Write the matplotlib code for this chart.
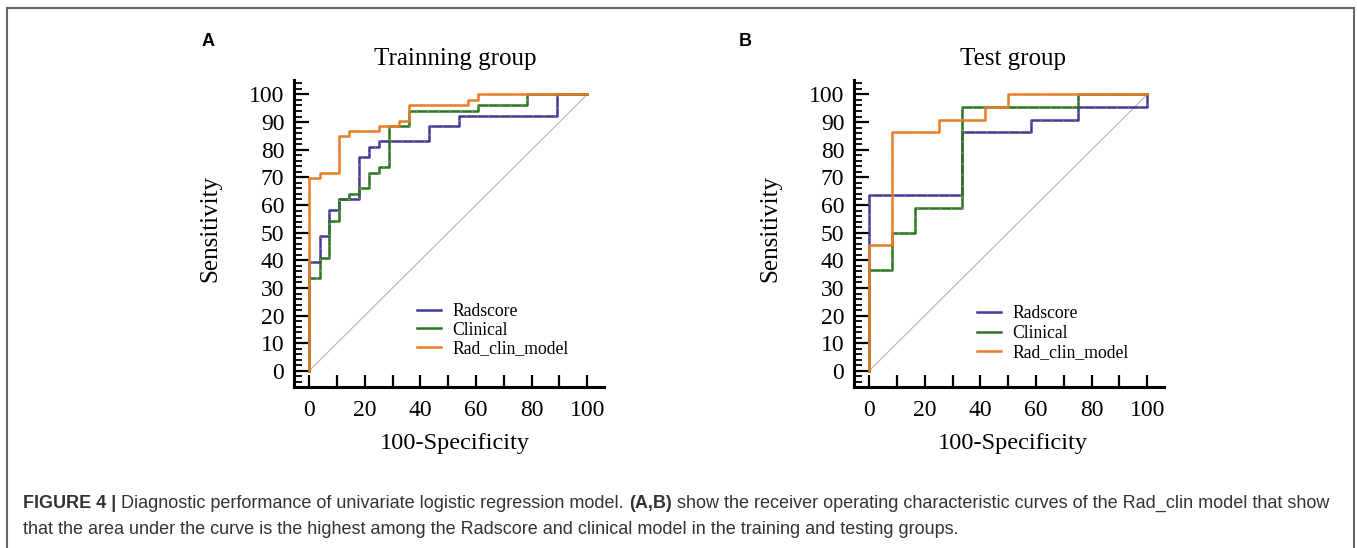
import matplotlib
matplotlib.use("Agg")
import matplotlib.pyplot as plt
from matplotlib.patches import Rectangle
from matplotlib.ticker import MultipleLocator

# ROC curves (100-specificity, sensitivity)
train_rad_x = [0, 0, 4.0, 7.3, 10.9, 18.1, 21.7, 25.3, 43.2, 54.0, 89.0, 100]
train_rad_y = [0, 39.3, 48.9, 58.2, 62.2, 77.5, 81.0, 83.0, 88.5, 92.3, 100, 100]
train_cli_x = [0, 0, 4.0, 7.3, 10.9, 14.5, 18.1, 21.7, 25.3, 28.9, 36.0, 60.8, 78.5, 100]
train_cli_y = [0, 33.7, 41.0, 54.3, 62.2, 64.0, 66.0, 71.7, 73.6, 88.5, 94.0, 96.1, 100, 100]
train_rc_x = [0, 0, 4.0, 10.9, 14.5, 25.3, 32.4, 36.0, 57.2, 60.8, 100]
train_rc_y = [0, 69.6, 71.4, 84.9, 86.7, 88.5, 90.3, 96.1, 98.0, 100, 100]

test_rad_x = [0, 0, 33.3, 58.3, 75.0, 100]
test_rad_y = [0, 63.6, 86.4, 90.9, 95.5, 100]
test_cli_x = [0, 0, 8.3, 16.7, 33.3, 75.0, 100]
test_cli_y = [0, 36.4, 50.0, 59.1, 95.5, 100, 100]
test_rc_x = [0, 0, 8.3, 25.0, 41.7, 50.0, 100]
test_rc_y = [0, 45.5, 86.4, 90.9, 95.5, 100, 100]

labels = ["Radscore", "Clinical", "Rad_clin_model"]
colors = ["#3b3b9e", "#2a7520", "#f07a22"]
dot_colors = ["#e0603a", "#9c8c9c", "#8ca050"]
titles = ["Trainning group", "Test group"]

serif = "Liberation Serif"
sans = "Liberation Sans"

fig = plt.figure(figsize=(13.57, 5.48), dpi=100)

# outer frame
fig.patches.append(Rectangle((7 / 1357, -0.02), 1347 / 1357, 1 - 8 / 548 + 0.02,
                             transform=fig.transFigure, fill=False,
                             edgecolor="#666666", lw=1.5))


def roc_panel(ax, curves, legend_anchor, spacing):
    ax.plot([0, 100], [0, 100], color="#d4a6b4", lw=0.8, zorder=1)
    handles = []
    for (xs, ys), lab, c, dc in zip(curves, labels, colors, dot_colors):
        h, = ax.plot(xs, ys, drawstyle="steps-post", color=c, lw=1.8, label=lab, zorder=3)
        ax.plot(xs, ys, drawstyle="steps-post", color=dc, lw=1.0,
                linestyle=(0, (1, 7)), zorder=4)
        handles.append(h)
    ax.set_xlim(-5.4, 106)
    ax.set_ylim(-5.8, 105.2)
    for s in ["top", "right"]:
        ax.spines[s].set_visible(False)
    for s in ["left", "bottom"]:
        ax.spines[s].set_linewidth(2.2)
    ax.xaxis.set_minor_locator(MultipleLocator(10))
    ax.yaxis.set_minor_locator(MultipleLocator(2))
    ax.set_xticks([0, 20, 40, 60, 80, 100])
    ax.set_yticks(range(0, 101, 10))
    ax.tick_params(axis="x", which="both", direction="in", length=9, width=1.6, pad=9)
    ax.tick_params(axis="y", which="major", direction="in", length=11, width=1.6, pad=7)
    ax.tick_params(axis="y", which="minor", direction="in", length=6, width=1.3)
    for t in ax.get_xticklabels() + ax.get_yticklabels():
        t.set_fontfamily(serif)
        t.set_fontsize(17)
    ax.legend(handles=handles, loc="lower left", bbox_to_anchor=legend_anchor,
              frameon=False, prop={"family": serif, "size": 12.7},
              handlelength=1.35, handletextpad=0.65, labelspacing=spacing,
              borderaxespad=0)


ax1 = fig.add_axes([294 / 1357, 1 - 387 / 548, 310 / 1357, 307 / 548])
roc_panel(ax1, [(train_rad_x, train_rad_y), (train_cli_x, train_cli_y),
                (train_rc_x, train_rc_y)], (0.375, 0.075), 0.08)
ax2 = fig.add_axes([854 / 1357, 1 - 387 / 548, 310 / 1357, 307 / 548])
roc_panel(ax2, [(test_rad_x, test_rad_y), (test_cli_x, test_cli_y),
                (test_rc_x, test_rc_y)], (0.375, 0.06), 0.16)

for cx, letter, lx, title in [(455, "A", 208, titles[0]), (1013, "B", 745, titles[1])]:
    fig.text(cx / 1357, 1 - 59 / 548, title, family=serif, fontsize=18,
             ha="center", va="center")
    fig.text(lx / 1357, 1 - 42 / 548, letter, family=sans, fontweight="bold",
             fontsize=13, ha="center", va="center")
    fig.text(cx / 1357, 1 - 444 / 548, "100-Specificity", family=serif,
             fontsize=17.6, ha="center", va="center")
fig.text(210 / 1357, 1 - 228 / 548, "Sensitivity", family=serif, fontsize=18,
         rotation=90, ha="center", va="center")
fig.text(770 / 1357, 1 - 228 / 548, "Sensitivity", family=serif, fontsize=18,
         rotation=90, ha="center", va="center")

# caption with mixed bold/regular pieces
cap_color = "#333333"
line1 = [("FIGURE 4 | ", "bold"),
         ("Diagnostic performance of univariate logistic regression model. ", "normal"),
         ("(A,B)", "bold"),
         (" show the receiver operating characteristic curves of the Rad_clin model that show", "normal")]
line2 = "that the area under the curve is the highest among the Radscore and clinical model in the training and testing groups."

renderer = fig.canvas.get_renderer()
x = 23
for txt, w in line1:
    t = fig.text(x / 1357, 1 - 503 / 548, txt, family=sans, fontweight=w,
                 fontsize=13, color=cap_color, ha="left", va="center")
    bb = t.get_window_extent(renderer)
    x += bb.width
fig.text(23 / 1357, 1 - 529 / 548, line2, family=sans, fontsize=13,
         color=cap_color, ha="left", va="center")

fig.savefig("out.png", dpi=100)
